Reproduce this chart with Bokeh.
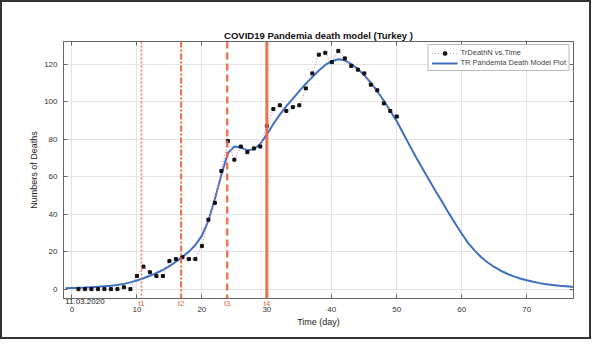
from bokeh.plotting import figure
from bokeh.models import Span, Legend, LegendItem, LinearAxis, Range1d, FixedTicker
from bokeh.embed import file_html
from bokeh.resources import INLINE

# ---- data ----
days = list(range(1, 51))
deaths = [0, 0, 0, 0, 0, 0, 0, 1, 0, 7,
          12, 9, 7, 7, 15, 16, 17, 16, 16, 23,
          37, 46, 63, 79, 69, 76, 73, 75, 76, 87,
          96, 98, 95, 97, 98, 107, 115, 125, 126, 121,
          127, 123, 119, 117, 115, 109, 106, 99, 95, 92]

model_t = list(range(-1, 79))
model_y = [0.5, 0.6, 0.7, 0.8, 1.0, 1.2, 1.5, 1.8, 2.2, 2.8,
           3.6, 4.6, 5.8, 7.1, 8.6, 10.3, 12.3, 14.6, 17.2, 20.0,
           23.5, 28.5, 36.5, 48, 61, 72.5, 76, 75.5, 74, 74.5,
           77.5, 82.5, 88, 93, 97.5, 101.5, 105.5, 109.5, 113, 116.5,
           119.5, 121.5, 122.5, 122, 120, 117.5, 114, 110, 105.5, 100.5,
           95, 89.5, 83, 76.5, 70, 64, 58, 52, 46.5, 40.5,
           35, 29.5, 24.5, 20.5, 17, 14.2, 11.8, 9.8, 8.2, 6.8,
           5.7, 4.7, 3.9, 3.2, 2.6, 2.2, 1.8, 1.5, 1.2, 1.0]

phase_t = [10.7, 16.8, 23.9, 30.0]
phase_labels = ["t1", "t2", "t3", "t4"]
start_date = "11.03.2020"
start_date_x = 2.0

x_ticks = [0, 10, 20, 30, 40, 50, 60, 70]
y_ticks = [0, 20, 40, 60, 80, 100, 120]

title_text = "COVID19 Pandemia death model (Turkey )"
x_label = "Time (day)"
y_label = "Numbers of Deaths"
legend_labels = ["TrDeathN vs.Time", "TR Pandemia Death Model Plot"]

# ---- styling ----
FONT = "Liberation Sans"
ORANGE = "#E9673F"
AX = "#666666"

p = figure(width=591, height=339, output_backend="svg", toolbar_location=None,
           x_range=Range1d(-1.3, 77.2), y_range=Range1d(-5, 132),
           min_border_left=61, min_border_right=20, min_border_top=39,
           min_border_bottom=43)
p.styles = {"border": "2px solid #333333"}
p.background_fill_color = "white"
p.border_fill_color = "white"
p.outline_line_color = AX

p.title.text = title_text
p.title.align = "center"
p.title.text_font = FONT
p.title.text_font_size = "9.5px"
p.title.text_font_style = "bold"
p.title.text_color = "#111111"
p.title.standoff = 2

p.xaxis.ticker = FixedTicker(ticks=x_ticks)
p.yaxis.ticker = FixedTicker(ticks=y_ticks)
p.yaxis.axis_label = y_label
for ax in [p.xaxis[0], p.yaxis[0]]:
    ax.major_tick_in = 4
    ax.major_tick_out = 0
    ax.minor_tick_line_color = None
    ax.axis_line_color = AX
    ax.major_tick_line_color = AX
    ax.major_label_text_font = FONT
    ax.major_label_text_font_size = "8px"
    ax.major_label_text_color = "#333333"
    ax.axis_label_text_font = FONT
    ax.axis_label_text_font_size = "9px"
    ax.axis_label_text_font_style = "normal"
    ax.axis_label_text_color = "#222222"
p.xaxis.major_label_standoff = 8
p.yaxis.major_label_standoff = 6
p.yaxis.axis_label_standoff = 2

for loc, tk in [("above", x_ticks), ("right", y_ticks)]:
    a = LinearAxis(ticker=FixedTicker(ticks=tk), major_tick_in=4, major_tick_out=0,
                   minor_tick_line_color=None, axis_line_color=AX,
                   major_tick_line_color=AX, major_label_text_color=None,
                   major_label_text_font_size="8px", major_label_standoff=0)
    p.add_layout(a, loc)

# phase labels and start date as label-only axes below the main x axis
t_axis = LinearAxis(ticker=FixedTicker(ticks=phase_t),
                    major_label_overrides={t: s for t, s in zip(phase_t, phase_labels)},
                    axis_line_color=None, major_tick_line_color=None,
                    minor_tick_line_color=None, major_label_standoff=-22,
                    major_label_text_color=ORANGE, major_label_text_font=FONT,
                    major_label_text_font_size="8px")
p.add_layout(t_axis, "below")
d_axis = LinearAxis(ticker=FixedTicker(ticks=[start_date_x]),
                    major_label_overrides={start_date_x: start_date},
                    axis_line_color=None, major_tick_line_color=None,
                    minor_tick_line_color=None, major_label_standoff=-22,
                    major_label_text_color="#222222", major_label_text_font=FONT,
                    major_label_text_font_size="8px",
                    axis_label=x_label, axis_label_text_font=FONT,
                    axis_label_text_font_size="9px", axis_label_text_font_style="normal",
                    axis_label_text_color="#222222", axis_label_standoff=10)
p.add_layout(d_axis, "below")

p.xgrid.grid_line_color = "#e4e4e4"
p.ygrid.grid_line_color = "#e4e4e4"

# phase lines
dashes = ["2 2", "6 2 2 2", "7 4", "solid"]
widths = [1.5, 2.2, 2.4, 3.0]
for t, d, w in zip(phase_t, dashes, widths):
    p.add_layout(Span(location=t, dimension="height", line_color=ORANGE,
                      line_dash=d, line_width=w, line_alpha=0.9))

r_model = p.line(model_t, model_y, line_color="#3F6FC0", line_width=2)
r_dline = p.line(days, deaths, line_color="#D98CC8", line_dash="1 2", line_width=1.2)
r_pts = p.scatter(days, deaths, marker="square", size=3, fill_color="#111111",
                  line_color="#111111")

legend = Legend(items=[LegendItem(label=legend_labels[0], renderers=[r_dline, r_pts]),
                       LegendItem(label=legend_labels[1], renderers=[r_model])],
                location="top_right")
legend.label_text_font = FONT
legend.label_text_font_size = "7.5px"
legend.label_height = 8
legend.glyph_height = 8
legend.glyph_width = 26
legend.spacing = 1
legend.padding = 3
legend.margin = 3
legend.label_standoff = 3
legend.border_line_color = "#777777"
legend.background_fill_alpha = 1
p.add_layout(legend)

open("out.html", "w").write(file_html(p, INLINE))
